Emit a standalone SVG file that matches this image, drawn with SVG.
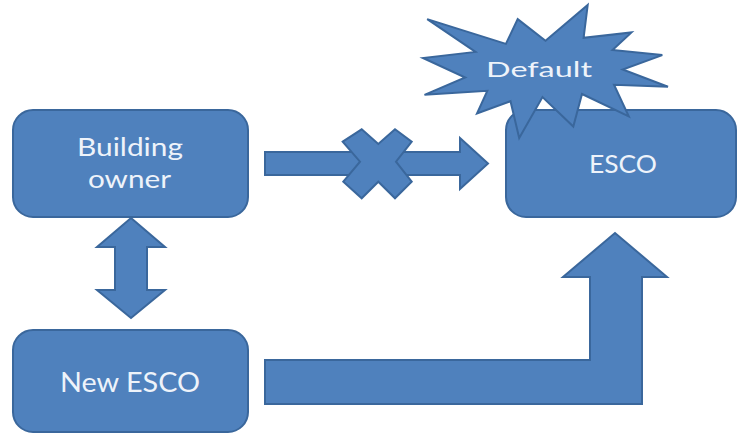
<svg xmlns="http://www.w3.org/2000/svg" width="738" height="434" viewBox="0 0 738 434">
  <style>
    .shape { fill: #4F81BD; stroke: #3A679C; stroke-width: 2; stroke-linejoin: miter; }
    .label { font-family: Lato, "Open Sans", "Liberation Sans", sans-serif; fill: #EEF3FA; text-anchor: start; }
  </style>
  <rect width="738" height="434" fill="#FFFFFF"/>

  <g id="connectors">
    <!-- vertical double arrow between Building owner and New ESCO -->
    <polygon id="arrow-owner-newesco" class="shape" points="131,218 165,247 147,247 147,290 165,290 131,318 97,290 115,290 115,247 97,247"/>
    <!-- blocked arrow from Building owner to ESCO -->
    <polygon id="arrow-owner-esco" class="shape" points="265,152 460,152 460,138 488,163.5 460,189 460,175 265,175"/>
    <polygon id="blocked-x" class="shape" points="342.7,141.7 361.7,129.3 378.3,144 395,129.3 411.7,141.7 396,161.7 411.7,181.7 395,198.3 378.3,181.7 361.7,198.3 343.3,181.7 360,161.7"/>
    <!-- bent-up arrow from New ESCO to ESCO -->
    <polygon id="arrow-newesco-esco" class="shape" points="265,360 590,360 590,277 563,277 615,233 667,277 642,277 642,404 265,404"/>
  </g>

  <g id="node-building-owner">
    <rect class="shape" x="13" y="110" width="235" height="107" rx="20" ry="20"/>
    <text class="label" x="77" y="156" font-size="25" textLength="106" lengthAdjust="spacingAndGlyphs">Building</text>
    <text class="label" x="88" y="188" font-size="25" textLength="83" lengthAdjust="spacingAndGlyphs">owner</text>
  </g>

  <g id="node-esco">
    <rect class="shape" x="506" y="110" width="230" height="107" rx="20" ry="20"/>
    <text class="label" x="589" y="173" font-size="25" textLength="68" lengthAdjust="spacingAndGlyphs">ESCO</text>
  </g>

  <g id="node-new-esco">
    <rect class="shape" x="13" y="330" width="235" height="102" rx="20" ry="20"/>
    <text class="label" x="60" y="392" font-size="26" textLength="140" lengthAdjust="spacingAndGlyphs">New ESCO</text>
  </g>

  <g id="node-default">
    <polygon class="shape" points="545.5,40.7 587.7,5 583.6,37.8 631.5,32.4 612.5,50 662.3,55.1 622.7,69.5 668,86.8 614,84.7 628.8,116.4 582,94 573.3,126.5 542.5,97 519.2,138 510.5,101.2 477,113.5 487.3,90.8 424.5,94.8 465.2,77.5 423,58 475.5,51.9 427.2,19.1 505.9,43.9 517.7,19.1"/>
    <text class="label" x="486" y="77" font-size="22" textLength="106" lengthAdjust="spacingAndGlyphs">Default</text>
  </g>
</svg>
